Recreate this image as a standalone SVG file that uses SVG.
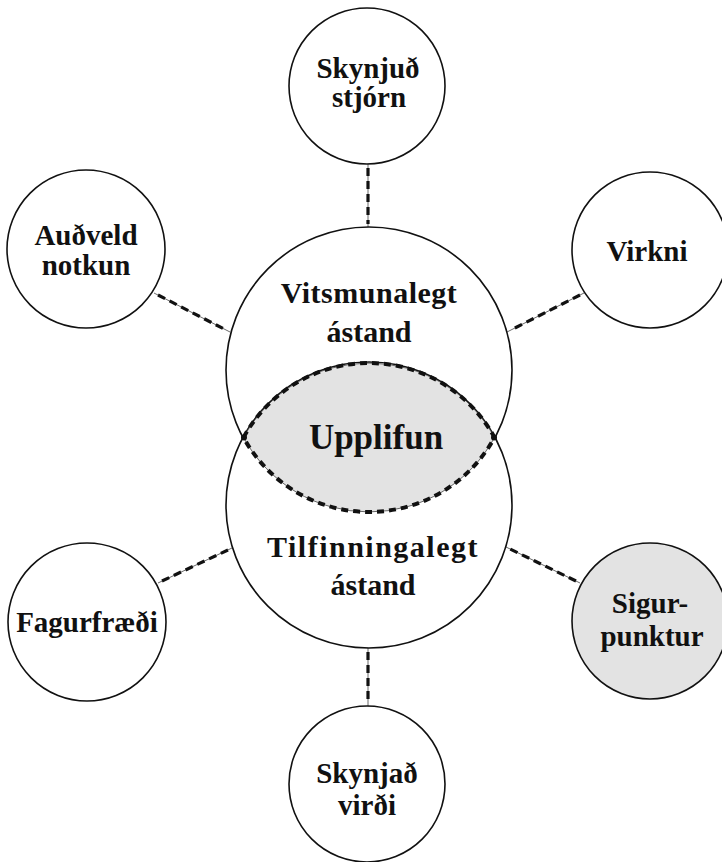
<svg xmlns="http://www.w3.org/2000/svg" width="722" height="862" viewBox="0 0 722 862">
  <style>
    .node { fill: #ffffff; stroke: #111111; stroke-width: 1.6; }
    .hl { fill: #e3e3e3; }
    .lbl { font-family: "Liberation Serif", "Times New Roman", serif; font-weight: bold; fill: #111111; text-anchor: middle; }
    .sm { font-size: 29px; }
    .big { font-size: 30px; }
    .core { font-size: 35px; }
    .wire { stroke: #444; stroke-width: 0.8; fill: none; }
    .dash { stroke: #111111; stroke-width: 3.2; stroke-dasharray: 8 5; fill: none; }
    .ldash { stroke: #111111; stroke-width: 4; stroke-dasharray: 7 5; fill: none; }
  </style>

  <!-- connectors: thin line with heavy dashes on top -->
  <g id="connectors">
    <line class="wire" x1="368" y1="164" x2="368" y2="227"/>
    <line class="dash" x1="368" y1="168" x2="368" y2="224"/>
    <line class="wire" x1="368" y1="648" x2="368" y2="706"/>
    <line class="dash" x1="368" y1="652" x2="368" y2="703"/>
    <line class="wire" x1="154" y1="293" x2="230" y2="332"/>
    <line class="dash" x1="158" y1="295" x2="226" y2="330"/>
    <line class="wire" x1="584" y1="293" x2="507" y2="332"/>
    <line class="dash" x1="580" y1="295" x2="511" y2="330"/>
    <line class="wire" x1="158" y1="583" x2="232" y2="548"/>
    <line class="dash" x1="162" y1="581" x2="228" y2="550"/>
    <line class="wire" x1="580" y1="583" x2="506" y2="547"/>
    <line class="dash" x1="576" y1="581" x2="510" y2="549"/>
  </g>

  <!-- central overlapping states -->
  <g id="cognitive">
    <circle class="node" cx="369" cy="370" r="143"/>
  </g>
  <g id="emotional">
    <circle class="node" cx="369" cy="505" r="143"/>
  </g>
  <g id="experience">
    <path class="hl" d="M243.5 437.5 A143 143 0 0 1 494.5 437.5 A143 143 0 0 1 243.5 437.5 Z"/>
    <path class="wire" d="M243.5 437.5 A143 143 0 0 1 494.5 437.5 A143 143 0 0 1 243.5 437.5 Z"/>
    <path class="ldash" d="M243.5 437.5 A143 143 0 0 1 494.5 437.5 A143 143 0 0 1 243.5 437.5 Z"/>
    <circle cx="244" cy="437.5" r="3" fill="#111111"/>
    <circle cx="494" cy="437.5" r="3" fill="#111111"/>
    <text class="lbl core" x="376" y="449">Upplifun</text>
  </g>
  <text class="lbl big" x="369" y="303" letter-spacing="0.5">Vitsmunalegt</text>
  <text class="lbl big" x="369" y="342">ástand</text>
  <text class="lbl big" x="373" y="557" letter-spacing="1.5">Tilfinningalegt</text>
  <text class="lbl big" x="373" y="595">ástand</text>

  <!-- satellite nodes -->
  <g id="perceived-control">
    <circle class="node" cx="367" cy="86" r="78"/>
    <text class="lbl sm" x="368" y="78">Skynjuð</text>
    <text class="lbl sm" x="369" y="107">stjórn</text>
  </g>
  <g id="ease-of-use">
    <circle class="node" cx="86" cy="249" r="79"/>
    <text class="lbl sm" x="86" y="245">Auðveld</text>
    <text class="lbl sm" x="86" y="275">notkun</text>
  </g>
  <g id="functionality">
    <circle class="node" cx="650" cy="250" r="78"/>
    <text class="lbl sm" x="647" y="261">Virkni</text>
  </g>
  <g id="aesthetics">
    <circle class="node" cx="87" cy="622" r="79"/>
    <text class="lbl sm" x="87" y="632">Fagurfræði</text>
  </g>
  <g id="peak-moment">
    <circle class="node hl" cx="650" cy="621" r="78"/>
    <text class="lbl sm" x="650" y="613">Sigur-</text>
    <text class="lbl sm" x="652" y="646">punktur</text>
  </g>
  <g id="perceived-value">
    <circle class="node" cx="367" cy="784" r="78"/>
    <text class="lbl sm" x="367" y="783">Skynjað</text>
    <text class="lbl sm" x="367" y="815">virði</text>
  </g>
</svg>
